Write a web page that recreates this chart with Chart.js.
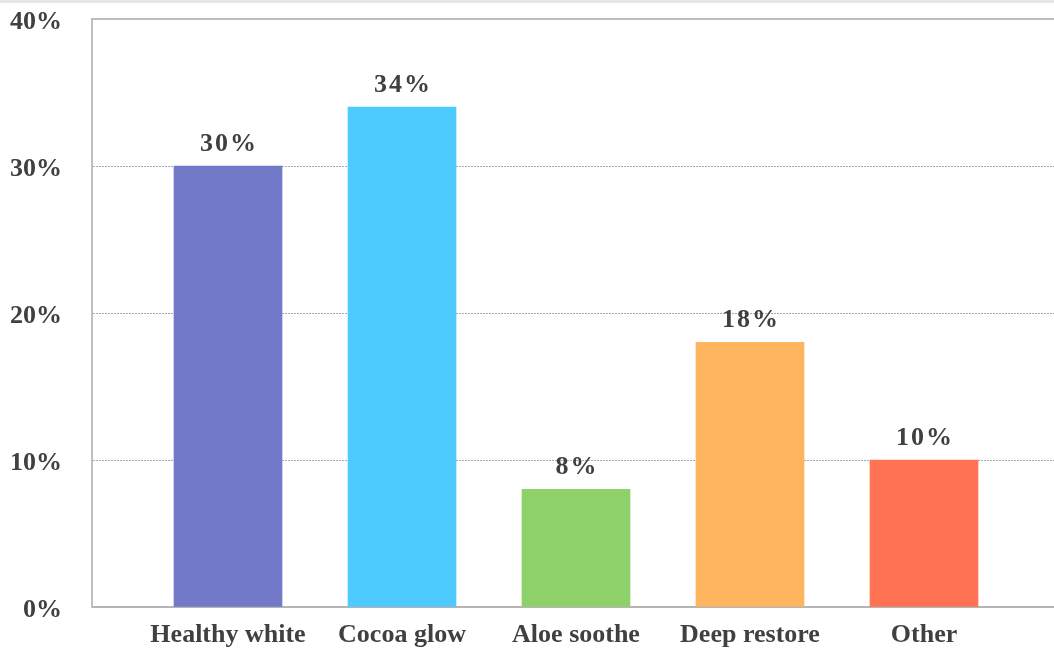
<!DOCTYPE html>
<html>
<head>
<meta charset="utf-8">
<script src="https://cdn.jsdelivr.net/npm/chart.js@4"></script>
<style>
  html, body { margin: 0; padding: 0; background: #fff; }
  body { border-top: 3px solid #e6e6e6; box-sizing: border-box; width: 1054px; height: 651px; overflow: hidden; }
  #wrap { position: relative; width: 1054px; height: 648px; }
</style>
</head>
<body>
<div id="wrap"><canvas id="chart"></canvas></div>
<script>
const categories = ['Healthy white', 'Cocoa glow', 'Aloe soothe', 'Deep restore', 'Other'];
const shares = [30, 34, 8, 18, 10];
const barColors = ['#7179c8', '#4dcbff', '#8ed16a', '#ffb55e', '#ff7354'];
const yTicks = [0, 10, 20, 30, 40];

const textColor = '#404040';
const serif = '"Liberation Serif", "Times New Roman", serif';

// value labels above the bars, plus the top frame line
const valueLabels = {
  id: 'valueLabels',
  afterDatasetsDraw(chart) {
    const ctx = chart.ctx;
    const area = chart.chartArea;
    const meta = chart.getDatasetMeta(0);
    ctx.save();
    ctx.strokeStyle = '#bdbdbd';
    ctx.lineWidth = 2;
    ctx.beginPath();
    ctx.moveTo(area.left - 1, area.top);
    ctx.lineTo(area.right, area.top);
    ctx.stroke();

    ctx.font = 'bold 26px ' + serif;
    ctx.fillStyle = textColor;
    ctx.textAlign = 'center';
    ctx.textBaseline = 'bottom';
    ctx.letterSpacing = '2px';
    meta.data.forEach((bar, i) => {
      ctx.fillText(shares[i] + '%', bar.x + 1, bar.y - 9);
    });
    ctx.restore();
  }
};

function createChart(canvasId) {
  const canvas = document.getElementById(canvasId);
  const existing = Chart.getChart(canvas);
  if (existing) existing.destroy();

  return new Chart(canvas, {
    type: 'bar',
    data: {
      datasets: [{
        data: shares.map((v, i) => ({ x: i, y: v })),
        backgroundColor: barColors,
        borderWidth: 0,
        barThickness: 108
      }]
    },
    options: {
      responsive: true,
      maintainAspectRatio: false,
      animation: false,
      layout: { padding: { top: 16, right: 0, bottom: 0, left: 0 } },
      plugins: { legend: { display: false }, tooltip: { enabled: false } },
      scales: {
        x: {
          type: 'linear',
          offset: false,
          min: -136 / 174,
          max: 826 / 174,
          afterBuildTicks: axis => { axis.ticks = categories.map((_, i) => ({ value: i })); },
          afterFit: axis => { axis.height = 44; },
          ticks: {
            callback: v => categories[v] || '',
            color: textColor,
            font: { family: serif, size: 26, weight: 'bold' },
            padding: 13,
            maxRotation: 0,
            autoSkip: false
          },
          grid: { display: false, drawTicks: false, offset: false },
          border: { color: '#b5b5b5', width: 2 }
        },
        y: {
          min: 0,
          max: 40,
          afterBuildTicks: axis => { axis.ticks = yTicks.map(v => ({ value: v })); },
          afterFit: axis => {
            axis.width = 92;
            axis.paddingTop = 16;
            axis.paddingBottom = 0;
          },
          ticks: {
            callback: v => v + '%',
            color: textColor,
            font: { family: serif, size: 26, weight: 'bold' },
            padding: 30,
            labelOffset: 3
          },
          grid: {
            drawTicks: false,
            color: c => (c.tick && c.tick.value % 40 === 0) ? 'rgba(0,0,0,0)' : '#a9a9a9',
            lineWidth: 1
          },
          border: { color: '#c0c0c0', width: 2, dash: [2, 1] }
        }
      }
    },
    plugins: [valueLabels]
  });
}

createChart('chart');
</script>
</body>
</html>
